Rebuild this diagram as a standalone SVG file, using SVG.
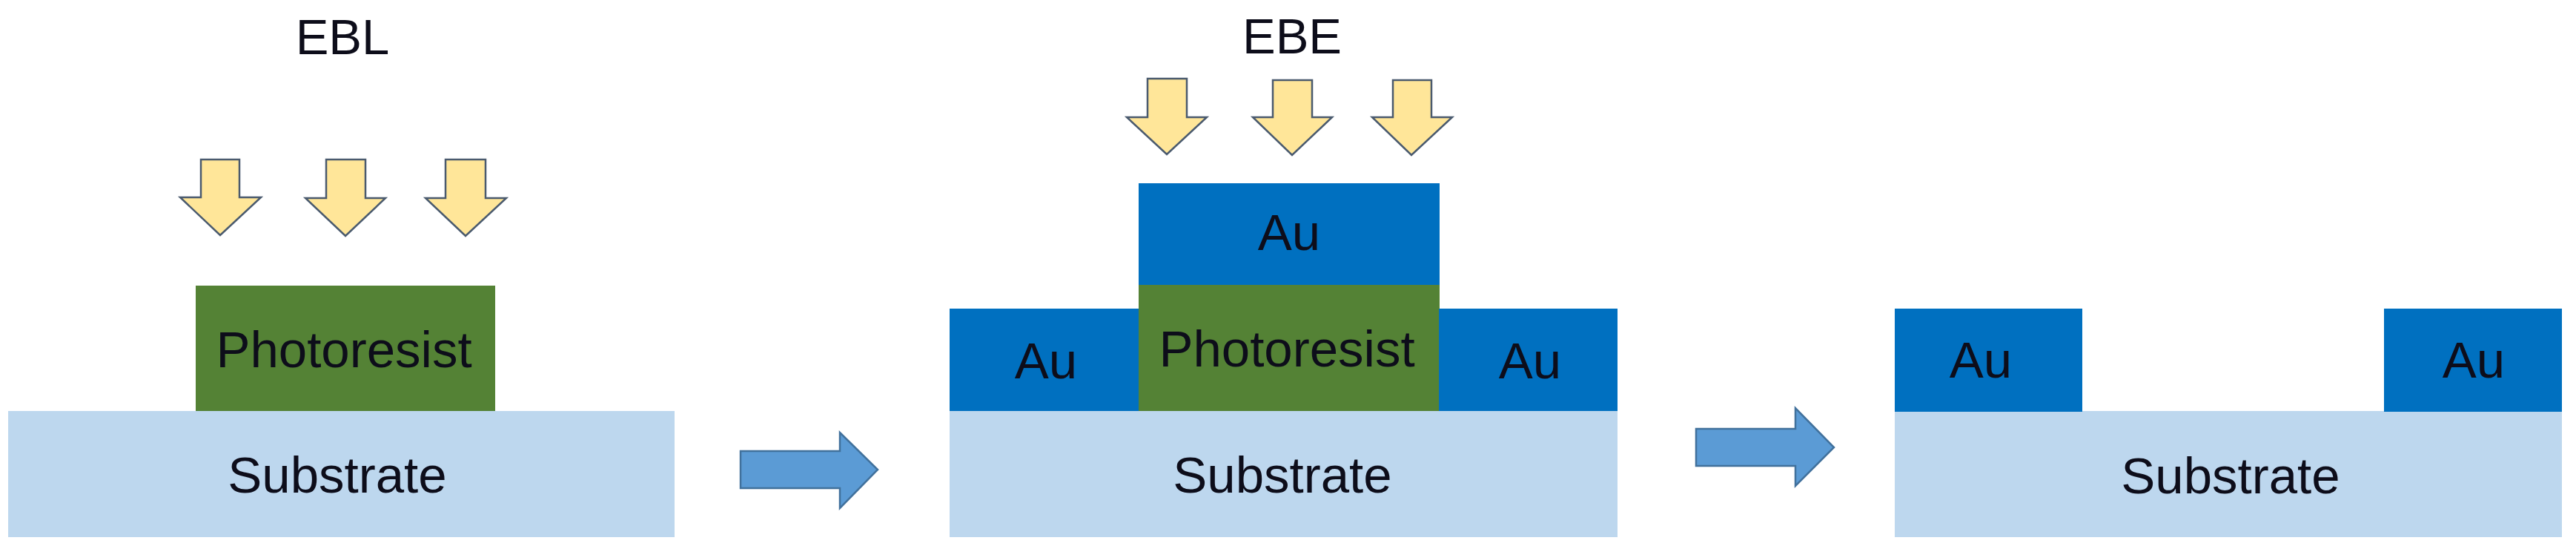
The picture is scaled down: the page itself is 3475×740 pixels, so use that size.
<svg xmlns="http://www.w3.org/2000/svg" width="3475" height="740" viewBox="0 0 3475 740">
<style>
.sub{fill:#BDD7EE}
.au{fill:#0070C0}
.pr{fill:#548235}
.beam{fill:#FFE699;stroke:#4A5A6E;stroke-width:2.5;stroke-linejoin:miter}
.step{fill:#5B9BD5;stroke:#41719C;stroke-width:2.5}
text{font-family:"Liberation Sans",Arial,sans-serif;font-size:69px;fill:#0D0D1A;text-anchor:middle}
.lbl{font-size:67px}
</style>
<rect width="3475" height="740" fill="#FFFFFF"/>
<g id="panel1">
  <text class="lbl" x="462" y="73">EBL</text>
  <g id="beam1">
    <path class="beam" d="M271,215 H323 V266 H352 L297,317 L243,266 H271 Z"/>
    <path class="beam" d="M440,215 H493 V267 H520 L466,318 L412,267 H440 Z"/>
    <path class="beam" d="M601,215 H655 V267 H683 L628,318 L574,267 H601 Z"/>
  </g>
  <g id="substrate1"><rect class="sub" x="11" y="554" width="899" height="170"/><text x="455" y="664">Substrate</text></g>
  <g id="photoresist1"><rect class="pr" x="264" y="385" width="404" height="169"/><text x="464" y="495">Photoresist</text></g>
</g>
<g id="panel2">
  <text class="lbl" x="1743" y="72">EBE</text>
  <g id="beam2">
    <path class="beam" d="M1548,106 H1601 V158 H1628 L1574,208 L1520,158 H1548 Z"/>
    <path class="beam" d="M1717,108 H1770 V158 H1797 L1743,209 L1690,158 H1717 Z"/>
    <path class="beam" d="M1879,108 H1931 V158 H1959 L1904,209 L1851,158 H1879 Z"/>
  </g>
  <g id="substrate2"><rect class="sub" x="1281" y="554" width="901" height="170"/><text x="1730" y="664">Substrate</text></g>
  <g id="au2left"><rect class="au" x="1281" y="416" width="256" height="138"/><text x="1411" y="510">Au</text></g>
  <g id="photoresist2"><rect class="pr" x="1536" y="383" width="406" height="171"/><text x="1736" y="494">Photoresist</text></g>
  <g id="au2top"><rect class="au" x="1536" y="247" width="406" height="137"/><text x="1739" y="337">Au</text></g>
  <g id="au2right"><rect class="au" x="1941" y="416" width="241" height="138"/><text x="2064" y="510">Au</text></g>
</g>
<g id="panel3">
  <g id="substrate3"><rect class="sub" x="2556" y="554" width="900" height="170"/><text x="3009" y="665">Substrate</text></g>
  <g id="au3left"><rect class="au" x="2556" y="416" width="253" height="139"/><text x="2672" y="509">Au</text></g>
  <g id="au3right"><rect class="au" x="3216" y="416" width="240" height="139"/><text x="3337" y="509">Au</text></g>
</g>
<g id="connectors">
  <path class="step" d="M999,608 H1133 V583 L1184,633 L1133,685 V658 H999 Z"/>
  <path class="step" d="M2288,578 H2422 V550 L2474,603 L2422,655 V628 H2288 Z"/>
</g>
</svg>
